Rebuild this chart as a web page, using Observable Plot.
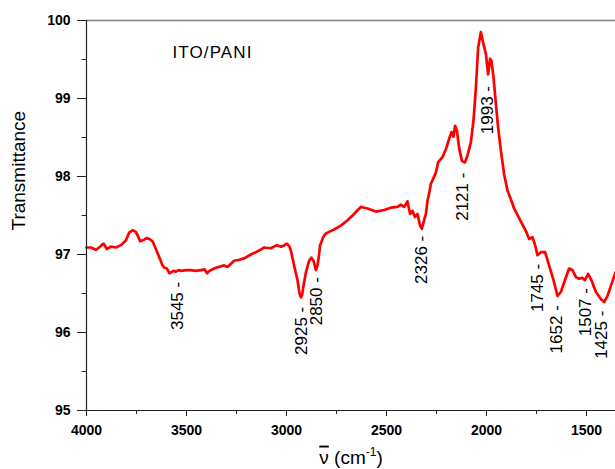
<!DOCTYPE html>
<html>
<head>
<meta charset="utf-8">
<script src="https://cdn.jsdelivr.net/npm/d3@7"></script>
<script src="https://cdn.jsdelivr.net/npm/@observablehq/plot@0.6"></script>
<style>
  html, body { margin: 0; padding: 0; background: #fff; }
</style>
</head>
<body>
<div id="chart"></div>
<script>
// FTIR spectrum of the ITO/PANI film
const wavenumber = [
  4000, 3978, 3953, 3937, 3915, 3898, 3878, 3853, 3828, 3803, 3787, 3770, 3762, 3753, 3740, 3732,
  3712, 3700, 3687, 3670, 3653, 3637, 3620, 3610, 3598, 3585, 3578, 3565, 3553, 3540, 3528, 3500,
  3478, 3455, 3428, 3410, 3397, 3385, 3362, 3340, 3312, 3295, 3262, 3240, 3212, 3178, 3153, 3130,
  3112, 3078, 3048, 3028, 3010, 2998, 2985, 2978, 2962, 2945, 2935, 2928, 2922, 2915, 2903, 2887,
  2875, 2865, 2853, 2845, 2838, 2832, 2815, 2803, 2787, 2762, 2728, 2695, 2662, 2640, 2628, 2610,
  2595, 2553, 2512, 2478, 2445, 2428, 2412, 2395, 2382, 2370, 2358, 2345, 2332, 2323, 2312, 2303,
  2295, 2287, 2278, 2270, 2253, 2242, 2220, 2203, 2187, 2175, 2165, 2157, 2148, 2137, 2123, 2108,
  2095, 2078, 2065, 2053, 2042, 2028, 2017, 2003, 1992, 1982, 1975, 1965, 1953, 1942, 1928, 1912,
  1895, 1870, 1862, 1848, 1828, 1803, 1787, 1770, 1757, 1745, 1728, 1707, 1687, 1665, 1645, 1628,
  1608, 1587, 1570, 1553, 1537, 1520, 1508, 1492, 1475, 1453, 1428, 1412, 1395, 1375, 1355
];
const transmittance = [
  97.09, 97.09, 97.06, 97.09, 97.14, 97.07, 97.10, 97.09, 97.12, 97.18, 97.28, 97.31, 97.30, 97.29, 97.22, 97.17,
  97.19, 97.21, 97.20, 97.17, 97.07, 96.97, 96.86, 96.83, 96.82, 96.76, 96.77, 96.79, 96.78, 96.80, 96.79, 96.80,
  96.80, 96.79, 96.80, 96.81, 96.76, 96.79, 96.82, 96.84, 96.86, 96.84, 96.92, 96.93, 96.95, 97.00, 97.03, 97.06,
  97.09, 97.08, 97.12, 97.10, 97.12, 97.14, 97.10, 97.05, 96.86, 96.67, 96.50, 96.45, 96.48, 96.60, 96.77, 96.92,
  96.96, 96.92, 96.80, 96.86, 96.98, 97.12, 97.23, 97.27, 97.29, 97.32, 97.37, 97.44, 97.52, 97.58, 97.61, 97.60,
  97.59, 97.55, 97.57, 97.60, 97.61, 97.64, 97.61, 97.68, 97.52, 97.56, 97.48, 97.52, 97.37, 97.33, 97.44, 97.52,
  97.69, 97.78, 97.91, 97.95, 98.05, 98.18, 98.25, 98.35, 98.48, 98.57, 98.51, 98.65, 98.59, 98.37, 98.20, 98.18,
  98.27, 98.44, 98.72, 99.14, 99.65, 99.85, 99.72, 99.57, 99.31, 99.51, 99.48, 99.27, 98.93, 98.63, 98.33, 98.03,
  97.82, 97.65, 97.59, 97.52, 97.42, 97.30, 97.20, 97.22, 97.12, 96.99, 97.03, 97.03, 96.86, 96.67, 96.47, 96.52,
  96.67, 96.82, 96.80, 96.71, 96.69, 96.70, 96.67, 96.75, 96.67, 96.52, 96.43, 96.39, 96.47, 96.62, 96.77
];

// Assigned bands and the transmittance level where each tag ends
const peakWavenumber = [3545, 2925, 2850, 2326, 2121, 1993, 1745, 1652, 1507, 1425];
const peakTagLevel = [96.65, 96.33, 96.71, 97.24, 98.05, 99.16, 96.88, 96.35, 96.57, 96.28];

const xTicks = [4000, 3500, 3000, 2500, 2000, 1500];
const xMinorTicks = [3750, 3250, 2750, 2250, 1750];
const yTicks = [95, 96, 97, 98, 99, 100];
const yMinorTicks = [95.5, 96.5, 97.5, 98.5, 99.5];

const sampleName = "ITO/PANI";
const xTitle = "\u03BD (cm-1)";
const yTitle = "Transmittance";

const spectrum = wavenumber.map((w, i) => ({w, t: transmittance[i]}));
const peaks = peakWavenumber.map((w, i) => ({w, t: peakTagLevel[i]}));

const chart = Plot.plot({
  width: 615,
  height: 469,
  marginLeft: 86,
  marginRight: 0,
  marginTop: 20,
  marginBottom: 59,
  style: {fontFamily: "'Liberation Sans', Arial, sans-serif", background: "#fff", color: "#000"},
  x: {domain: [4000, 1355]},
  y: {domain: [95, 100]},
  marks: [
    Plot.line(spectrum, {x: "w", y: "t", stroke: "#ff0000", strokeWidth: 2.7, strokeLinejoin: "round"}),
    Plot.ruleY([100], {stroke: "#808080", strokeWidth: 1.3}),
    Plot.ruleY([95], {stroke: "#222", strokeWidth: 1.2}),
    Plot.ruleX([4000], {stroke: "#222", strokeWidth: 1.2}),
    Plot.axisX({ticks: xTicks, tickSize: 6, tickPadding: 9, fontSize: 14, fontWeight: "bold",
      tickFormat: d => String(d), label: null, stroke: "#222"}),
    Plot.axisX({ticks: xMinorTicks, tickSize: 4, fill: "none", label: null, stroke: "#222"}),
    Plot.axisY({ticks: yTicks, tickSize: 9, tickPadding: 7, fontSize: 14, fontWeight: "bold",
      tickFormat: d => String(d), label: null, stroke: "#222"}),
    Plot.axisY({ticks: yMinorTicks, tickSize: 4.5, fill: "none", label: null, stroke: "#222"}),
    Plot.text(peaks, {x: "w", y: "t", text: d => `${d.w} -`, rotate: -90, textAnchor: "end",
      lineAnchor: "middle", fontSize: 17, fill: "#000"}),
    Plot.text([sampleName], {x: 3570, y: 99.52, textAnchor: "start", lineAnchor: "bottom", fontSize: 17, fill: "#000"}),
    Plot.text([yTitle], {frameAnchor: "left", rotate: -90, dx: -68, dy: 15, lineAnchor: "middle", fontSize: 19, fill: "#000"}),
    Plot.text([xTitle], {frameAnchor: "bottom", dy: 47, lineAnchor: "middle", fontSize: 19, fill: "#000"})
  ]
});

const svg = d3.select(chart);

svg.selectAll("text")
  .filter(function () { return this.textContent === sampleName; })
  .attr("letter-spacing", 1.1);

// Wavenumber symbol with an overbar, and the unit's exponent raised
svg.selectAll("text")
  .filter(function () { return this.textContent === xTitle; })
  .each(function () {
    const t = d3.select(this);
    t.text(null);
    t.append("tspan").attr("text-decoration", "overline").text("\u03BD");
    t.append("tspan").text(" (cm");
    t.append("tspan").attr("dy", -8).attr("font-size", 12).text("-1");
    t.append("tspan").attr("dy", 8).text(")");
  });

document.getElementById("chart").appendChild(chart);
</script>
</body>
</html>
